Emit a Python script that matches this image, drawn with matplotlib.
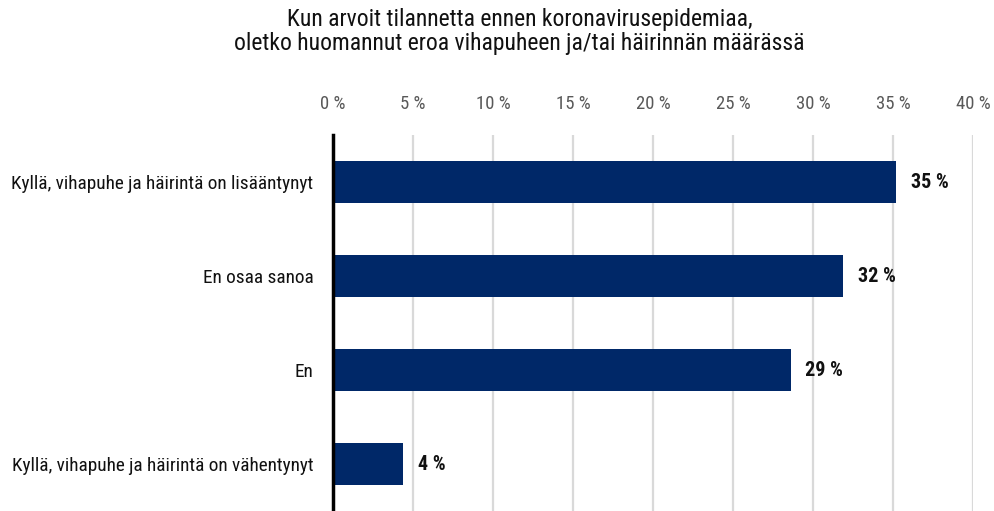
import matplotlib
matplotlib.use("Agg")
import matplotlib.pyplot as plt
from matplotlib import font_manager

# data
categories = [
    "Kyllä, vihapuhe ja häirintä on lisääntynyt",
    "En osaa sanoa",
    "En",
    "Kyllä, vihapuhe ja häirintä on vähentynyt",
]
values = [35.2, 31.9, 28.6, 4.4]
value_labels = ["35 %", "32 %", "29 %", "4 %"]
ticks = [0, 5, 10, 15, 20, 25, 30, 35, 40]
tick_labels = [f"{t} %" for t in ticks]

title = ("Kun arvoit tilannetta ennen koronavirusepidemiaa,\n"
         "oletko huomannut eroa vihapuheen ja/tai häirinnän määrässä")

names = {f.name for f in font_manager.fontManager.ttflist}
fam = [f for f in ["Liberation Sans Narrow", "Roboto Condensed", "Open Sans Condensed"] if f in names]
plt.rcParams["font.family"] = fam + ["Liberation Sans", "DejaVu Sans"]

bar_color = "#002868"

fig = plt.figure(figsize=(9.95, 5.11), dpi=100)
ax = fig.add_axes([333 / 995, 0.0, 640 / 995, 376 / 511])

y = list(range(len(categories)))
ax.barh(y, values, height=0.45, color=bar_color, zorder=3)
for yi, v, lab in zip(y, values, value_labels):
    ax.text(v + 0.9, yi, lab, va="center", ha="left", fontsize=14.5,
            fontweight="bold", color="#111111")

ax.set_xlim(0, 40)
ax.set_ylim(len(categories) - 0.5, -0.5)
ax.set_yticks(y)
ax.set_yticklabels(categories, fontsize=13.9, color="#111111")
ax.set_xticks(ticks)
ax.set_xticklabels(tick_labels, fontsize=13.5, color="#595959")
ax.xaxis.tick_top()
ax.tick_params(axis="x", length=0, pad=16)
ax.tick_params(axis="y", length=0, pad=14)

ax.grid(axis="x", color="#d9d9d9", linewidth=1.6, zorder=0)
for s in ["top", "right", "bottom"]:
    ax.spines[s].set_visible(False)
ax.spines["left"].set_linewidth(2.5)
ax.spines["left"].set_color("black")
ax.spines["left"].set_zorder(4)

fig.text(0.522, 0.985, title, ha="center", va="top", fontsize=17, color="#111111",
         linespacing=1.05)

fig.savefig("out.png", dpi=100)
